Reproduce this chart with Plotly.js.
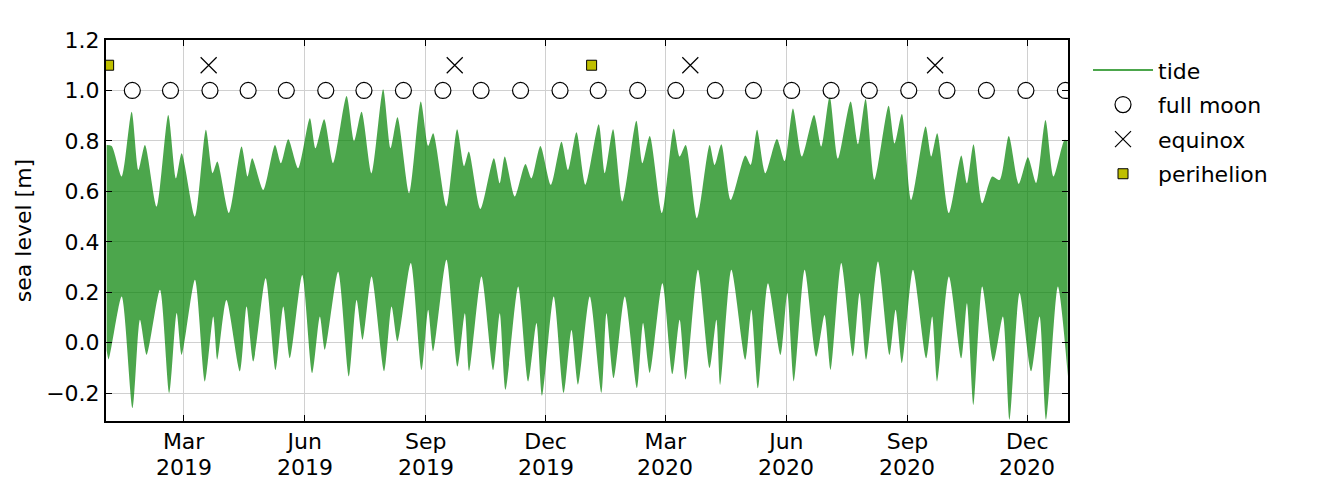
<!DOCTYPE html>
<html>
<head>
<meta charset="utf-8">
<script src="https://cdn.plot.ly/plotly-3.0.1.min.js"></script>
<style>
  html, body { margin: 0; padding: 0; background: #ffffff; }
  #chart { width: 1320px; height: 480px; }
</style>
</head>
<body>
<div id="chart"></div>
<script>
// ---- data ----
const startDate = '2019-01-01';

// upper envelope of the tide signal: days after startDate, sea level [m]
const tideHighDays = [0.5, 4.3, 11.9, 19.5, 24.6, 29.6, 38.5, 47.3, 53.2, 57.5, 67.6, 75.9, 81, 84.6,
  93.4, 103, 107.6, 111.1, 119.5, 128.4, 132.9, 138.5, 146, 154.9, 159.2, 165.8, 172.6, 182.8,
  188.5, 194.2, 201.8, 210.6, 216.2, 221.5, 230.4, 239.2, 244.8, 248.6, 258.7, 266.8, 272.1, 275.7,
  284.5, 294.7, 299.2, 303, 310.6, 318.7, 323.3, 330.1, 338, 346.1, 351.1, 357.5, 364.3, 374.4,
  379, 385.3, 392.4, 403, 407.6, 413.2, 422.5, 431.4, 435.9, 440.5, 449.1, 458.7, 462.5, 467.6,
  474.7, 485.8, 489.9, 494.7, 501, 509.8, 515.7, 522, 528.8, 538, 543.5, 549.9, 556.2, 565.8,
  571.4, 577.2, 584, 594.7, 599.2, 604.8, 611.9, 622.8, 627.1, 631.6, 640.5, 649.9, 654.2, 659.2,
  665.8, 673.4, 679, 686, 693.6, 700.5, 706.8, 713.9, 720, 728.4, 730.6];
const tideHighValues = [0.784, 0.78, 0.659, 0.916, 0.685, 0.784, 0.54, 0.903, 0.652, 0.751, 0.50, 0.844, 0.672, 0.718,
  0.514, 0.778, 0.659, 0.731, 0.606, 0.784, 0.712, 0.807, 0.692, 0.89, 0.771, 0.886, 0.712, 0.978,
  0.80, 0.916, 0.672, 1.005, 0.771, 0.894, 0.593, 0.956, 0.78, 0.83, 0.54, 0.846, 0.70, 0.758,
  0.53, 0.731, 0.632, 0.738, 0.58, 0.709, 0.652, 0.78, 0.626, 0.797, 0.685, 0.834, 0.626, 0.866,
  0.672, 0.846, 0.56, 0.88, 0.712, 0.82, 0.514, 0.848, 0.738, 0.784, 0.494, 0.784, 0.705, 0.787,
  0.566, 0.742, 0.705, 0.844, 0.672, 0.808, 0.72, 0.929, 0.738, 0.903, 0.778, 0.976, 0.73, 0.956,
  0.787, 0.966, 0.646, 0.939, 0.79, 0.907, 0.566, 0.857, 0.738, 0.83, 0.514, 0.742, 0.632, 0.787,
  0.553, 0.659, 0.645, 0.82, 0.63, 0.735, 0.633, 0.883, 0.659, 0.804, 0.80];

// lower envelope of the tide signal
const tideLowDays = [0.5, 2, 11.9, 20.2, 25.8, 30.9, 41, 48.1, 53.7, 57.5, 67.6, 75.2, 81.5, 84.6,
  91.5, 101.8, 106.8, 111.9, 121.3, 128.9, 134.7, 139.7, 149.1, 156.7, 162.5, 166.3, 176.4, 184.6,
  190.4, 195, 201.8, 211.4, 217, 221.5, 231.6, 239.8, 244.8, 248.6, 258.7, 267.1, 272.7, 275.9,
  285.3, 294.2, 299.2, 303.6, 313.2, 320.8, 327.1, 331.4, 340.2, 347.8, 353.7, 358.7, 367.6, 376.5,
  380.3, 385.8, 394.2, 403.5, 408.1, 413.2, 422.8, 430.4, 435.9, 440.5, 449.8, 458.7, 463.8, 466.8,
  475.2, 485.8, 490.4, 495.4, 503, 512.6, 517.7, 522.7, 530.9, 539.7, 546, 550.6, 558.7, 567.6,
  572.6, 577.7, 586.6, 595.4, 600, 604.8, 613.2, 623.3, 627.8, 631.6, 640.5, 649.9, 654.2, 659.2,
  665.8, 674.4, 681.5, 686.6, 694.2, 703, 709.4, 714.4, 723.3, 730.9];
const tideLowValues = [-0.03, -0.067, 0.183, -0.259, 0.091, -0.048, 0.21, -0.199, 0.118, -0.048, 0.25, -0.153, 0.104, -0.067,
  0.17, -0.113, 0.144, -0.074, 0.256, -0.108, 0.144, -0.061, 0.269, -0.12, 0.104, -0.028, 0.282, -0.133,
  0.17, 0.012, 0.263, -0.113, 0.144, 0.005, 0.316, -0.108, 0.131, -0.034, 0.329, -0.094, 0.117, -0.113,
  0.263, -0.108, 0.117, -0.186, 0.223, -0.153, 0.078, -0.21, 0.183, -0.199, 0.051, -0.166, 0.183, -0.199,
  0.117, -0.14, 0.183, -0.18, 0.078, -0.12, 0.236, -0.124, 0.091, -0.147, 0.289, -0.10, 0.091, -0.166,
  0.289, -0.067, 0.131, -0.18, 0.236, -0.048, 0.197, -0.153, 0.289, -0.055, 0.11, -0.108, 0.316, -0.054,
  0.197, -0.067, 0.322, -0.048, 0.131, -0.081, 0.289, -0.061, 0.104, -0.153, 0.263, -0.061, 0.157, -0.246,
  0.223, -0.074, 0.104, -0.305, 0.197, -0.113, 0.104, -0.305, 0.223, -0.133];

const fullMoonDates = ['2019-01-21', '2019-02-19', '2019-03-21', '2019-04-19', '2019-05-18', '2019-06-17',
  '2019-07-16', '2019-08-15', '2019-09-14', '2019-10-13', '2019-11-12', '2019-12-12',
  '2020-01-10', '2020-02-09', '2020-03-09', '2020-04-08', '2020-05-07', '2020-06-05',
  '2020-07-05', '2020-08-03', '2020-09-02', '2020-10-01', '2020-10-31', '2020-11-30', '2020-12-30'];
const fullMoonLevel = fullMoonDates.map(() => 1.0);

const equinoxDates = ['2019-03-20', '2019-09-23', '2020-03-20', '2020-09-22'];
const equinoxLevel = [1.1, 1.1, 1.1, 1.1];

const perihelionDates = ['2019-01-03', '2020-01-05'];
const perihelionLevel = [1.1, 1.1];

const xTickDates = ['2019-03-01', '2019-06-01', '2019-09-01', '2019-12-01',
  '2020-03-01', '2020-06-01', '2020-09-01', '2020-12-01'];
const xTickMonths = ['Mar', 'Jun', 'Sep', 'Dec', 'Mar', 'Jun', 'Sep', 'Dec'];
const xTickYears = ['2019', '2019', '2019', '2019', '2020', '2020', '2020', '2020'];
const yTickValues = [-0.2, 0.0, 0.2, 0.4, 0.6, 0.8, 1.0, 1.2];

// ---- helpers ----
const t0 = Date.parse(startDate + 'T00:00:00Z');
function toDate(d) { return new Date(t0 + d * 86400000).toISOString().slice(0, 19).replace('T', ' '); }

const tideGreen = 'rgba(0,128,0,0.7)';
const FONT = 'DejaVu Sans, Liberation Sans, sans-serif';
const FS = 22;

const traces = [
  {
    x: tideHighDays.map(toDate), y: tideHighValues,
    mode: 'lines', line: { width: 0, color: tideGreen, shape: 'spline', smoothing: 0.7 },
    showlegend: false, hoverinfo: 'skip'
  },
  {
    x: tideLowDays.map(toDate), y: tideLowValues,
    mode: 'lines', line: { width: 0, color: tideGreen, shape: 'spline', smoothing: 0.7 },
    fill: 'tonexty', fillcolor: tideGreen,
    showlegend: false, hoverinfo: 'skip'
  },
  {
    x: [null], y: [null], mode: 'lines', name: 'tide',
    line: { color: tideGreen, width: 2 }, legendgroup: 'g1'
  },
  {
    x: fullMoonDates, y: fullMoonLevel, mode: 'markers', name: 'full moon',
    marker: { symbol: 'circle', size: 16, color: '#ffffff', line: { color: '#000000', width: 1.2 } },
    legendgroup: 'g2'
  },
  {
    x: equinoxDates, y: equinoxLevel, mode: 'markers', name: 'equinox',
    marker: { symbol: 'x-thin-open', size: 16, color: '#000000', line: { color: '#000000', width: 1.2 } },
    legendgroup: 'g3'
  },
  {
    x: perihelionDates, y: perihelionLevel, mode: 'markers', name: 'perihelion',
    marker: { symbol: 'square', size: 10, color: '#bfbf00', line: { color: '#000000', width: 1 } },
    legendgroup: 'g4'
  }
];

// second line of the x tick labels (year), placed under each tick
const yearLabels = xTickDates.map((d, i) => ({
  x: d, xref: 'x', y: 0, yref: 'paper',
  text: xTickYears[i], showarrow: false,
  xanchor: 'center', yanchor: 'middle', yshift: -46,
  font: { family: FONT, size: FS, color: '#000000' }
}));

const layout = {
  width: 1320, height: 480,
  margin: { l: 106, r: 252, t: 40, b: 59, pad: 0 },
  paper_bgcolor: '#ffffff', plot_bgcolor: '#ffffff',
  font: { family: FONT, size: FS, color: '#000000' },
  showlegend: true,
  legend: {
    x: 1.0208, xanchor: 'left', y: 0.976, yanchor: 'top',
    font: { family: FONT, size: FS, color: '#000000' },
    bgcolor: 'rgba(0,0,0,0)', borderwidth: 0,
    traceorder: 'grouped', tracegroupgap: 3, itemwidth: 60
  },
  annotations: yearLabels,
  xaxis: {
    type: 'date', range: ['2019-01-01', '2021-01-01'],
    tickmode: 'array', tickvals: xTickDates, ticktext: xTickMonths,
    ticks: 'inside', ticklen: 6, tickwidth: 1, tickcolor: '#000000',
    showline: true, linewidth: 2, linecolor: '#000000', mirror: 'allticks',
    showgrid: true, gridcolor: '#d0d0d0', gridwidth: 1, zeroline: false,
    tickfont: { family: FONT, size: FS, color: '#000000' }
  },
  yaxis: {
    range: [-0.31, 1.2],
    tickmode: 'array', tickvals: yTickValues, tickformat: '.1f',
    ticks: 'inside', ticklen: 6, tickwidth: 1, tickcolor: '#000000',
    showline: true, linewidth: 2, linecolor: '#000000', mirror: 'allticks',
    showgrid: true, gridcolor: '#d0d0d0', gridwidth: 1, zeroline: false,
    tickfont: { family: FONT, size: FS, color: '#000000' },
    title: { text: 'sea level [m]', font: { family: FONT, size: FS, color: '#000000' }, standoff: 8 }
  }
};

Plotly.newPlot('chart', traces, layout, { displayModeBar: false, staticPlot: true });
</script>
</body>
</html>
